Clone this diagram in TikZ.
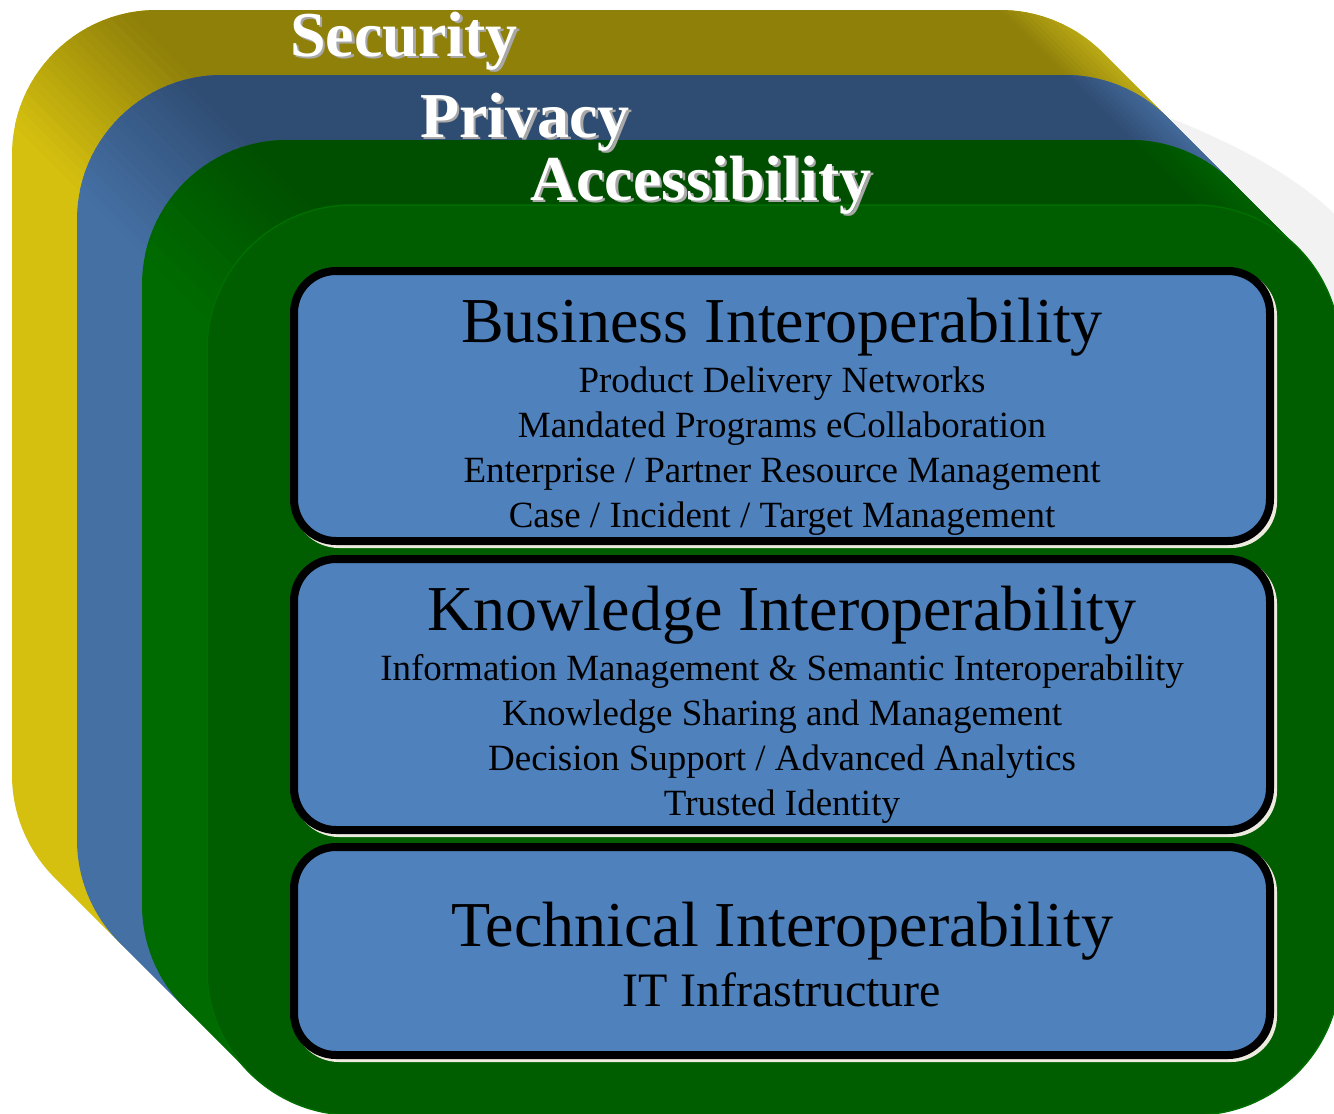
\documentclass[tikz,border=0pt]{standalone}
\usepackage{fontspec}
\setmainfont{Liberation Serif}
\definecolor{ylight}{HTML}{D5C00F}
\definecolor{ydark}{HTML}{8F800A}
\definecolor{yedge}{HTML}{BBAA16}
\definecolor{blight}{HTML}{4570A4}
\definecolor{bdark}{HTML}{2F4C72}
\definecolor{bedge}{HTML}{43699A}
\definecolor{glight}{HTML}{006B00}
\definecolor{gdark}{HTML}{004E00}
\definecolor{gedge}{HTML}{006000}
\definecolor{gface}{HTML}{005E00}
\definecolor{gline}{HTML}{006E00}
\definecolor{boxblue}{HTML}{4F81BD}
\definecolor{rimcol}{HTML}{EDEADF}
\definecolor{shgray}{HTML}{F2F2F2}
\definecolor{txtsh}{HTML}{A8A8A8}
\tikzset{
 hull/.style 2 args={insert path={(#1,{#2+145}) arc[start angle=180,end angle=270,radius=145]
   -- ({#1+988},#2) arc[start angle=270,end angle=315,radius=145]
   -- ++(65,65) arc[start angle=315,end angle=360,radius=145]
   -- ({#1+1198},{#2+830}) arc[start angle=0,end angle=90,radius=145]
   -- ({#1+210},{#2+975}) arc[start angle=90,end angle=135,radius=145]
   -- ++(-65,-65) arc[start angle=135,end angle=180,radius=145] -- cycle}},
 lbl/.style={font=\fontsize{64}{70}\selectfont\bfseries, text=white, inner sep=0pt, anchor=base west},
 lblsh/.style={lbl, text=txtsh},
 ibox/.style={rectangle, rounded corners=42pt, draw=black, line width=8pt, fill=boxblue, inner sep=0pt},
 irim/.style={rectangle, rounded corners=42pt, draw=rimcol, line width=8pt, inner sep=0pt},
 ttl/.style={font=\fontsize{64}{70}\selectfont, inner sep=0pt, anchor=base},
 subl/.style={font=\fontsize{37}{40}\selectfont, inner sep=0pt, anchor=base},
 subb/.style={font=\fontsize{48}{52}\selectfont, inner sep=0pt, anchor=base},
}
\newcommand{\drawlayer}[5]{%
 \fill[#3, hull={#1}{#2}];
 \begin{scope}
  \clip[hull={#1}{#2}];
  \begin{scope}[shift={({#1+145},{#2+145})},rotate=-45]
   \foreach \i in {0,...,19}{%
     \pgfmathsetmacro\pp{(\i+0.5)*5}%
     \pgfmathsetmacro\da{-80+\i*8}%
     \pgfmathsetmacro\db{\da+9}%
     \fill[#4!\pp!#3] (\da,-2500) -- (\db,-2500) -- (\db,2500) -- (\da,2500) -- cycle;}
   \fill[#4] (80,-2500) -- (699,-2500) -- (699,2500) -- (80,2500) -- cycle;
   \foreach \i in {0,...,9}{%
     \pgfmathsetmacro\pp{(\i+0.5)*10}%
     \pgfmathsetmacro\da{698+\i*4.3}%
     \pgfmathsetmacro\db{\i==9 ? 800 : \da+5}%
     \fill[#5!\pp!#4] (\da,-2500) -- (\db,-2500) -- (\db,2500) -- (\da,2500) -- cycle;}
  \end{scope}
 \end{scope}}
\begin{document}
\begin{tikzpicture}[x=1pt,y=1pt,yscale=-1]
\useasboundingbox (0,0) rectangle (1334,1114);
\clip (0,0) rectangle (1334,1114);
\fill[white] (0,0) rectangle (1334,1114);
% light shadow at right
\fill[shgray] (1170,118) .. controls (1250,150) and (1310,185) .. (1350,230) -- (1350,430) -- (1250,300) -- cycle;
% layers
\drawlayer{12}{10}{ylight}{ydark}{yedge}
\drawlayer{77}{75}{blight}{bdark}{bedge}
\drawlayer{142}{140}{glight}{gdark}{gedge}
% front face
\fill[gface, draw=gline, line width=1.5pt, rounded corners=145pt] (207,205) rectangle (1340,1115);
% layer labels
\node[lblsh] (secsh) at (292.5,58.5) {Security};
\node[lbl] (sec) at (290,56) {Security};
\node[lblsh] (privsh) at (422.5,139.5) {Privacy};
\node[lbl] (priv) at (420,137) {Privacy};
\node[lblsh] (accsh) at (532.5,202.5) {Accessibility};
\node[lbl] (acc) at (530,200) {Accessibility};
% boxes
\node[irim, minimum width=976pt, minimum height=270pt] (busrim) at (785,409) {};
\node[ibox, minimum width=976pt, minimum height=270pt] (bus) at (782,406) {};
\node[irim, minimum width=976pt, minimum height=271pt] (knorim) at (785,697.5) {};
\node[ibox, minimum width=976pt, minimum height=271pt] (kno) at (782,694.5) {};
\node[irim, minimum width=976pt, minimum height=208pt] (tecrim) at (785,954) {};
\node[ibox, minimum width=976pt, minimum height=208pt] (tec) at (782,951) {};
% business text
\node[ttl] (busT) at (782,342) {Business Interoperability};
\node[subl] (bus1) at (782,392) {Product Delivery Networks};
\node[subl] (bus2) at (782,437) {Mandated Programs eCollaboration};
\node[subl] (bus3) at (782,482) {Enterprise / Partner Resource Management};
\node[subl] (bus4) at (782,527) {Case / Incident / Target Management};
% knowledge text
\node[ttl] (knoT) at (782,630) {Knowledge Interoperability};
\node[subl] (kno1) at (782,680) {Information Management \& Semantic Interoperability};
\node[subl] (kno2) at (782,725) {Knowledge Sharing and Management};
\node[subl] (kno3) at (782,770) {Decision Support / Advanced Analytics};
\node[subl] (kno4) at (782,815) {Trusted Identity};
% technical text
\node[ttl] (tecT) at (782,946) {Technical Interoperability};
\node[subb] (tec1) at (782,1006) {IT Infrastructure};
\end{tikzpicture}
\end{document}
